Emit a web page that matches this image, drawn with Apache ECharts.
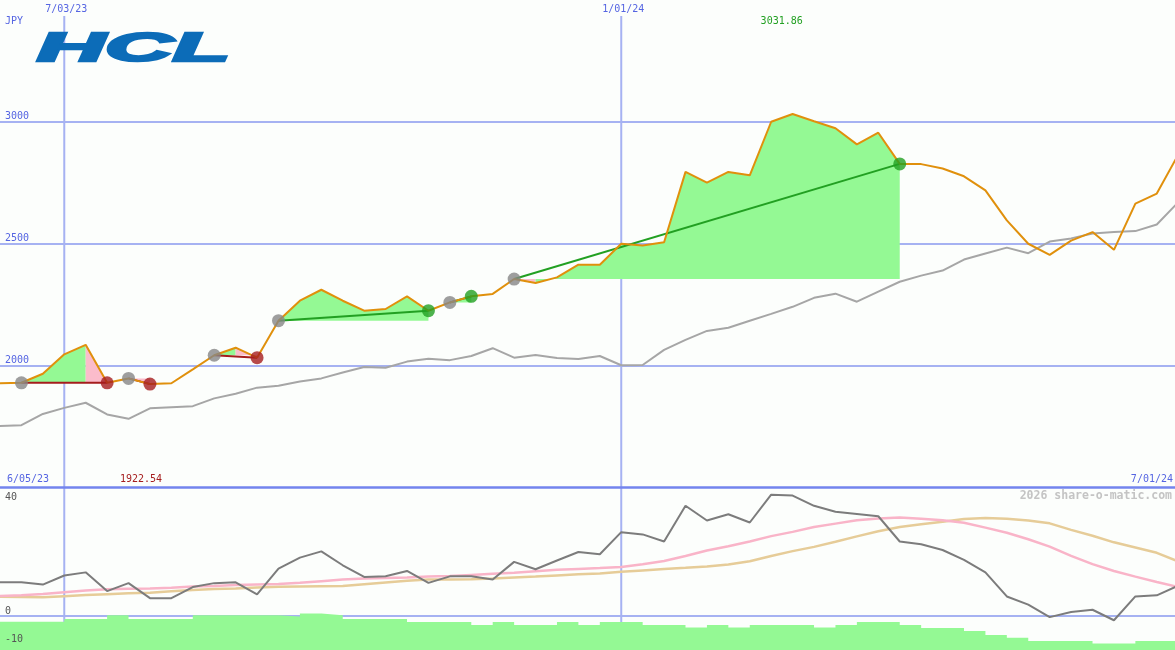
<!DOCTYPE html>
<html><head><meta charset="utf-8">
<script src="https://cdn.jsdelivr.net/npm/echarts@6/dist/echarts.min.js"></script>
<style>html,body{margin:0;padding:0;background:#fcfefc}#c{width:1175px;height:650px}</style>
</head><body><div id="c"></div>
<script>
// weekly closes, week 1 = 12 Jun 2023 ... week 56 = 1 Jul 2024
const price = [1926, 1928, 1965, 2045, 2084, 1928, 1946, 1922.54, 1926, 1983,
  2041, 2072, 2031, 2183, 2265, 2310, 2265, 2224, 2231, 2283,
  2224, 2258, 2283, 2293, 2354, 2338, 2361, 2413, 2413, 2499,
  2492, 2505, 2794, 2750, 2794, 2780, 3000, 3031.86, 3002, 2973,
  2907, 2955, 2827, 2826, 2808, 2776, 2718, 2595, 2499, 2453,
  2512, 2547, 2474, 2664, 2705, 2865];
const avg = [1750, 1754, 1800, 1825, 1846, 1798, 1780, 1823, 1828, 1832,
  1864, 1883, 1908, 1916, 1933, 1946, 1970, 1993, 1990, 2015,
  2027, 2021, 2038, 2070, 2031, 2042, 2030, 2026, 2038, 2000,
  2001, 2063, 2104, 2141, 2154, 2183, 2211, 2240, 2277, 2294,
  2261, 2302, 2343, 2368, 2389, 2434, 2459, 2483, 2460, 2508,
  2521, 2541, 2547, 2551, 2578, 2669];
const osc = [11.9, 11.9, 11.1, 14.3, 15.4, 8.8, 11.6, 6.3, 6.3, 10.2,
  11.6, 11.9, 7.6, 16.7, 20.6, 22.8, 17.9, 13.8, 14.0, 15.9,
  11.7, 14.0, 14.0, 12.9, 19.1, 16.5, 19.6, 22.6, 21.8, 29.6,
  28.8, 26.3, 38.9, 33.7, 35.9, 33.0, 42.8, 42.5, 38.9, 36.8,
  36.0, 35.2, 26.3, 25.3, 23.3, 19.8, 15.4, 6.9, 4.0, -0.4,
  1.4, 2.2, -1.5, 6.9, 7.3, 10.7];
const oscFast = [7.1, 7.3, 7.8, 8.4, 9.0, 9.4, 9.6, 9.7, 10.0, 10.4,
  10.6, 10.9, 11.1, 11.3, 11.7, 12.3, 12.9, 13.2, 13.4, 13.6,
  13.9, 14.1, 14.5, 14.9, 15.3, 15.8, 16.3, 16.6, 16.9, 17.3,
  18.3, 19.4, 21.2, 23.1, 24.6, 26.3, 28.2, 29.7, 31.4, 32.6,
  33.8, 34.4, 34.8, 34.3, 33.8, 32.9, 31.2, 29.4, 27.1, 24.5,
  21.2, 18.3, 15.9, 13.9, 12.0, 10.2];
const oscSlow = [6.8, 6.7, 6.6, 7.0, 7.4, 7.7, 8.0, 8.2, 8.7, 9.2,
  9.5, 9.7, 10.1, 10.3, 10.4, 10.5, 10.6, 11.2, 11.8, 12.4,
  12.9, 12.9, 13.0, 13.2, 13.6, 13.9, 14.3, 14.7, 15.0, 15.6,
  16.1, 16.6, 17.0, 17.5, 18.2, 19.3, 21.2, 22.9, 24.4, 26.2,
  28.1, 29.9, 31.4, 32.4, 33.3, 34.2, 34.6, 34.3, 33.7, 32.7,
  30.4, 28.3, 26.0, 24.2, 22.3, 19.3];
const volume = [-2.0, -2.0, -2.0, -1.05, -1.05, 0.3, -1.05, -1.05, -1.05, 0.3,
  0.3, 0.3, 0.3, -0.2, 0.9, 0.3, -1.05, -1.05, -1.05, -2.1,
  -2.1, -2.1, -3.2, -2.1, -3.2, -3.2, -2.1, -3.2, -2.1, -2.1,
  -3.2, -3.2, -4.1, -3.2, -4.1, -3.2, -3.2, -3.2, -4.1, -3.2,
  -2.1, -2.1, -3.2, -4.2, -4.2, -5.3, -6.7, -7.7, -8.8, -8.8,
  -8.8, -9.7, -9.7, -8.8, -8.8, -8.8];
const priceTicks = [2000, 2500, 3000];
const oscTicks = [40, 0, -10];
const zeroLines = [0];
const dateLines = [[4, '7/03/23'], [30, '1/01/24']];
const rangeLabels = ['6/05/23', '7/01/24'];
// [entry week, exit week, result]
const trades = [[2, 6, 'loss'], [7, 8, 'loss'], [11, 13, 'loss'], [14, 21, 'win'], [22, 23, 'win'], [25, 43, 'win']];
// [from week, to week, entry week, kind]
const fills = [[2, 5, 2, 'up'], [5, 6, 2, 'down'], [7, 8, 7, 'down'], [11, 12, 11, 'up'], [12, 13, 11, 'down'],
  [14, 21, 14, 'up'], [22, 23, 22, 'up'], [25, 26, 25, 'down'], [26, 43, 25, 'up']];

const FONT = '10px "DejaVu Sans Mono"';
const BLUE_TXT = '#5565e2';
const GRID_C = '#a6b2f2';
const pairs = arr => arr.map((v, i) => [i + 1, v]);

const chart = echarts.init(document.getElementById('c'), null, {renderer: 'canvas'});
const xCommon = {type: 'value', min: 1, max: 55.85, show: false, splitLine: {show: false}};
const option = {
  backgroundColor: '#fcfefc',
  animation: false,
  grid: [
    {left: 0, right: 0, top: 0, height: 487},
    {left: 0, right: 0, top: 487, height: 163}
  ],
  xAxis: [
    Object.assign({gridIndex: 0}, xCommon),
    {gridIndex: 1, type: 'value', min: 1, max: 55.85, position: 'top', show: true, z: 8,
      axisLine: {show: true, onZero: false, lineStyle: {color: '#7384ee', width: 2.5}},
      axisTick: {show: false}, axisLabel: {show: false}, splitLine: {show: false}}
  ],
  yAxis: [
    {gridIndex: 0, type: 'value', min: 1500, max: 3500, interval: 500,
      axisLine: {show: false}, axisTick: {show: false},
      axisLabel: {inside: true, margin: 5, verticalAlign: 'bottom', color: BLUE_TXT, fontSize: 10, fontFamily: 'DejaVu Sans Mono',
        formatter: v => priceTicks.includes(v) ? String(v) : ''},
      splitLine: {show: true, showMinLine: false, showMaxLine: false, lineStyle: {color: GRID_C, width: 2}}},
    {gridIndex: 1, type: 'value', min: -12, max: 45.53, interval: 2, z: 10,
      axisLine: {show: false}, axisTick: {show: false},
      axisLabel: {inside: true, margin: 5, verticalAlign: 'bottom', color: '#555555', fontSize: 10, fontFamily: 'DejaVu Sans Mono',
        formatter: v => oscTicks.includes(v) ? String(v) : ''},
      splitLine: {show: false}}
  ],
  series: [
    { // vertical date lines, top panel
      type: 'custom', xAxisIndex: 0, yAxisIndex: 0, z: 1, silent: true,
      data: dateLines.map(d => [d[0], 2000]),
      renderItem(params, api) {
        const x = api.coord([api.value(0), 2000])[0];
        const cs = params.coordSys;
        return {type: 'group', children: [
          {type: 'line', shape: {x1: x, y1: cs.y + 16, x2: x, y2: cs.y + cs.height}, style: {stroke: GRID_C, lineWidth: 2}},
          {type: 'text', style: {text: dateLines[params.dataIndex][1], x: x + 2, y: cs.y + 9, align: 'center', verticalAlign: 'middle', font: FONT, fill: BLUE_TXT}}
        ]};
      }
    },
    { // vertical date lines, lower panel
      type: 'custom', xAxisIndex: 1, yAxisIndex: 1, z: 1, silent: true,
      data: dateLines.map(d => [d[0], 0]),
      renderItem(params, api) {
        const x = api.coord([api.value(0), 0])[0];
        const cs = params.coordSys;
        return {type: 'line', shape: {x1: x, y1: cs.y, x2: x, y2: cs.y + cs.height}, style: {stroke: GRID_C, lineWidth: 2}};
      }
    },
    { // zero line, lower panel
      type: 'custom', xAxisIndex: 1, yAxisIndex: 1, z: 1, silent: true,
      data: zeroLines.map(v => [1, v]),
      renderItem(params, api) {
        const y = api.coord([1, api.value(1)])[1];
        const cs = params.coordSys;
        return {type: 'line', shape: {x1: cs.x, y1: y, x2: cs.x + cs.width, y2: y}, style: {stroke: GRID_C, lineWidth: 2}};
      }
    },
    { // trade fills
      type: 'custom', xAxisIndex: 0, yAxisIndex: 0, z: 2, silent: true,
      data: fills.map(f => [f[0], price[f[0] - 1]]),
      renderItem(params, api) {
        const [a, b, e, kind] = fills[params.dataIndex];
        const base = price[e - 1];
        const pts = [];
        for (let i = a; i <= b; i++) pts.push(api.coord([i, price[i - 1]]));
        pts.push(api.coord([b, base]));
        pts.push(api.coord([a, base]));
        return {type: 'polygon', shape: {points: pts}, style: {fill: kind === 'up' ? '#94f994' : '#fbbccb'}};
      }
    },
    { // volume-like bars
      type: 'line', xAxisIndex: 1, yAxisIndex: 1, z: 2, step: 'end', showSymbol: false, silent: true,
      data: pairs(volume), lineStyle: {width: 0},
      areaStyle: {color: '#94f994', opacity: 1, origin: 'start'}
    },
    {type: 'line', xAxisIndex: 0, yAxisIndex: 0, z: 3, showSymbol: false, silent: true, data: pairs(avg),
      lineStyle: {color: '#a6a6a6', width: 2}},
    {type: 'line', xAxisIndex: 1, yAxisIndex: 1, z: 3, showSymbol: false, silent: true, data: pairs(oscSlow),
      lineStyle: {color: '#e6cc98', width: 2.5}},
    {type: 'line', xAxisIndex: 1, yAxisIndex: 1, z: 3, showSymbol: false, silent: true, data: pairs(oscFast),
      lineStyle: {color: '#f9b4c8', width: 2.5}},
    {type: 'line', xAxisIndex: 1, yAxisIndex: 1, z: 3, showSymbol: false, silent: true, data: pairs(osc),
      lineStyle: {color: '#7c7c7c', width: 2}},
    { // trade lines
      type: 'custom', xAxisIndex: 0, yAxisIndex: 0, z: 4, silent: true,
      data: trades.map(t => [t[0], price[t[0] - 1]]),
      renderItem(params, api) {
        const [a, b, res] = trades[params.dataIndex];
        const p1 = api.coord([a, price[a - 1]]);
        const p2 = api.coord([b, price[b - 1]]);
        return {type: 'line', shape: {x1: p1[0], y1: p1[1], x2: p2[0], y2: p2[1]},
          style: {stroke: res === 'win' ? '#22a022' : '#a51d1d', lineWidth: 2}};
      }
    },
    {type: 'line', xAxisIndex: 0, yAxisIndex: 0, z: 5, showSymbol: false, silent: true, data: pairs(price),
      lineStyle: {color: '#e0900c', width: 2}},
    {type: 'scatter', xAxisIndex: 0, yAxisIndex: 0, z: 6, silent: true, symbolSize: 13,
      data: trades.map(t => [t[0], price[t[0] - 1]]), itemStyle: {color: '#868686'}},
    {type: 'scatter', xAxisIndex: 0, yAxisIndex: 0, z: 6, silent: true, symbolSize: 13,
      data: trades.filter(t => t[2] === 'loss').map(t => [t[1], price[t[1] - 1]]), itemStyle: {color: '#a51d1d'}},
    {type: 'scatter', xAxisIndex: 0, yAxisIndex: 0, z: 6, silent: true, symbolSize: 13,
      data: trades.filter(t => t[2] === 'win').map(t => [t[1], price[t[1] - 1]]), itemStyle: {color: '#22a022'}}
  ]
};
chart.setOption(option);

const maxV = Math.max(...price), minV = Math.min(...price);
const maxP = chart.convertToPixel({gridIndex: 0}, [price.indexOf(maxV) + 1, maxV]);
const minP = chart.convertToPixel({gridIndex: 0}, [price.indexOf(minV) + 1, minV]);
chart.setOption({
  graphic: [
    {type: 'text', x: 5, y: 21, z: 10, style: {text: 'JPY', font: FONT, fill: BLUE_TXT, verticalAlign: 'middle'}},
    {type: 'text', x: 37, y: 30, z: 10, scaleX: 2.35, style: {text: 'HCL', font: 'italic bold 40px "Liberation Sans"', fill: '#0c6cb8', stroke: '#0c6cb8', lineWidth: 2.5, verticalAlign: 'top'}},
    {type: 'text', x: maxP[0] - 32, y: 21, z: 10, style: {text: maxV.toFixed(2), font: FONT, fill: '#22a022', verticalAlign: 'middle'}},
    {type: 'text', x: minP[0] - 30, y: 479, z: 10, style: {text: minV.toFixed(2), font: FONT, fill: '#a51d1d', verticalAlign: 'middle'}},
    {type: 'text', x: 7, y: 479, z: 10, style: {text: rangeLabels[0], font: FONT, fill: BLUE_TXT, verticalAlign: 'middle'}},
    {type: 'text', x: 1173, y: 479, z: 10, style: {text: rangeLabels[1], font: FONT, fill: BLUE_TXT, align: 'right', verticalAlign: 'middle'}},
    {type: 'text', x: 1172, y: 496, z: 10, style: {text: '2026 share-o-matic.com', font: 'bold 11.5px "DejaVu Sans Mono"', fill: '#c4c4c4', align: 'right', verticalAlign: 'middle'}}
  ]
});
</script></body></html>
